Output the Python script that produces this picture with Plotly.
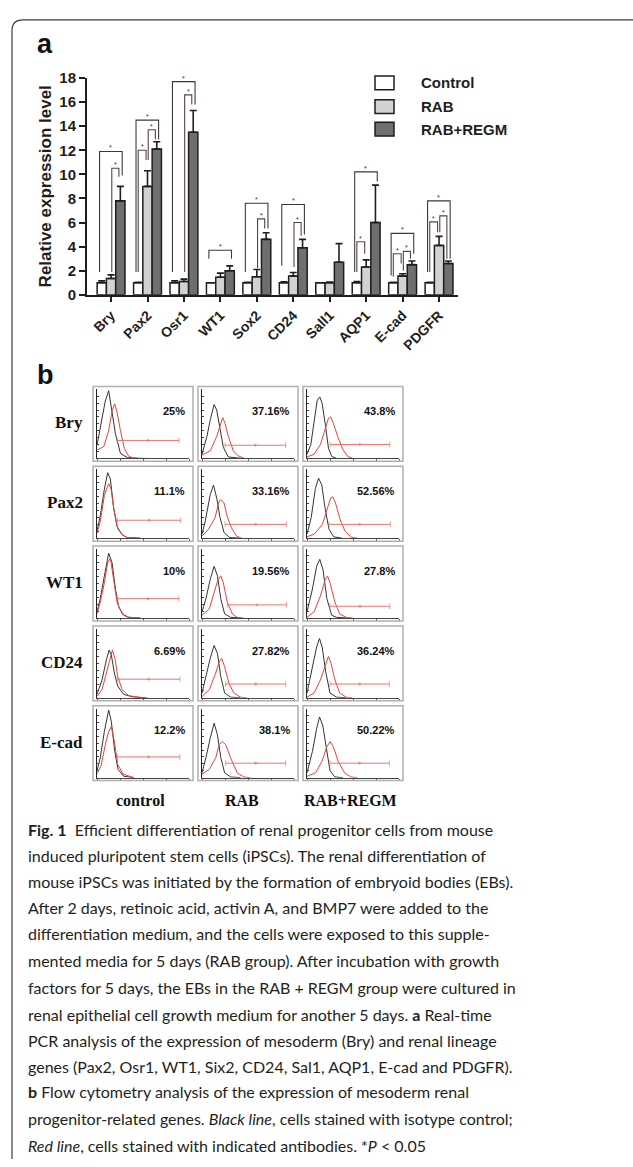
import plotly.graph_objects as go

W, H = 633, 1167

# ---------------- Panel a data ----------------
GENES = ["Bry", "Pax2", "Osr1", "WT1", "Sox2", "CD24", "Sall1", "AQP1", "E-cad", "PDGFR"]
GROUPS = ["Control", "RAB", "RAB+REGM"]
CONTROL = [1.0, 1.0, 1.0, 1.0, 1.0, 1.0, 1.0, 1.0, 1.0, 1.0]
CONTROL_ERR = [0.15, 0.03, 0.15, 0.0, 0.03, 0.08, 0.0, 0.1, 0.03, 0.03]
RAB = [1.35, 9.0, 1.1, 1.45, 1.5, 1.55, 1.0, 2.3, 1.55, 4.1]
RAB_ERR = [0.3, 1.3, 0.2, 0.35, 0.6, 0.3, 0.05, 0.6, 0.2, 0.75]
REGM = [7.8, 12.1, 13.5, 2.0, 4.6, 3.9, 2.7, 6.0, 2.5, 2.6]
REGM_ERR = [1.2, 0.6, 1.8, 0.4, 0.55, 0.7, 1.55, 3.1, 0.3, 0.2]
Y_TICKS = [0, 2, 4, 6, 8, 10, 12, 14, 16, 18]

# significance brackets: (gene index, from group, to group, top, left leg end, right leg end)
BRACKETS = [
    (0, 0, 2, 11.9, 1.9, 9.9), (0, 1, 2, 10.5, 1.9, 9.8),
    (1, 0, 2, 14.5, 1.9, 12.9), (1, 0, 1, 12.0, 1.9, 11.2), (1, 1, 2, 13.7, 11.2, 12.9),
    (2, 0, 2, 17.7, 1.9, 15.8), (2, 1, 2, 16.6, 1.9, 15.8),
    (3, 0, 2, 3.7, 3.0, 3.0),
    (4, 0, 2, 7.6, 1.9, 5.5), (4, 1, 2, 6.3, 2.2, 5.5),
    (5, 0, 2, 7.5, 2.4, 5.0), (5, 1, 2, 6.0, 2.3, 4.9),
    (7, 0, 2, 10.2, 1.9, 9.4), (7, 0, 1, 4.4, 1.9, 3.4),
    (8, 0, 2, 5.1, 1.6, 3.4), (8, 0, 1, 3.4, 1.5, 2.6), (8, 1, 2, 3.6, 2.0, 3.0),
    (9, 0, 2, 7.8, 1.9, 3.0), (9, 0, 1, 6.05, 1.9, 5.2), (9, 1, 2, 6.55, 5.2, 3.0),
]

# ---------------- Panel b data ----------------
FLOW_MARKERS = ["Bry", "Pax2", "WT1", "CD24", "E-cad"]
FLOW_GROUPS = ["control", "RAB", "RAB+REGM"]
FLOW_PCT = [["25%", "37.16%", "43.8%"],
            ["11.1%", "33.16%", "52.56%"],
            ["10%", "19.56%", "27.8%"],
            ["6.69%", "27.82%", "36.24%"],
            ["12.2%", "38.1%", "50.22%"]]
GATE_Y = [[26, 19, 20], [26, 20, 20], [28, 19, 17], [27, 20, 20], [30, 21, 21]]
GATE_X0 = [[22, 25, 25], [22, 25, 24], [22, 27.5, 25], [22, 25.7, 25], [22, 25.7, 25]]
GATE_X1 = [[89, 91, 90], [91, 92, 90.5], [89, 92, 90], [90, 91, 89.5], [90, 91, 89.5]]

BRY_BLACK = [
    [(0, 19), (5.5, 55), (9, 83), (12.7, 98), (16.4, 69), (20, 36), (25.5, 7), (33, 1), (47, 0)],
    [(0, 6), (5.4, 32), (9, 56), (13.2, 78), (16, 70), (19.6, 42), (23.2, 16), (28.6, 2), (43, 0)],
    [(0, 6), (4.2, 20), (7.7, 53), (11.1, 84), (13.9, 89), (16.4, 80), (19.9, 49), (23.3, 15), (26.8, 3), (32, 0)],
]
BRY_RED = [
    [(0, 12), (7.3, 17), (12.7, 40), (16.4, 69), (19.3, 79), (21.8, 67), (25.5, 40), (29.8, 14), (34.5, 3), (40, 0), (55, 0)],
    [(0, 5), (9, 11), (16, 32), (19.6, 49), (22.5, 59), (25, 51), (28.6, 32), (34, 11), (39, 4), (46, 0)],
    [(0, 2), (7.7, 6), (14.6, 20), (19.9, 44), (23.3, 58), (25.8, 60), (28.6, 51), (33.8, 30), (39, 13), (44, 3), (49.5, 0)],
]
PAX2_BLACK = [
    [(0, 10), (3.6, 33), (8, 71), (11.6, 95), (14.5, 86), (18.2, 43), (21.8, 17), (27.3, 5), (32.7, 1), (47, 0)],
    [(0, 6), (3.6, 25), (8.9, 63), (12.5, 77), (16, 58), (19.6, 30), (24, 8), (30, 1), (41, 0)],
    [(0, 6), (4.6, 30), (9.1, 72), (12.6, 87), (16.1, 77), (19.6, 44), (23.9, 13), (29, 2), (38, 0)],
]
PAX2_RED = [
    [(0, 7), (3.6, 24), (8, 62), (12.7, 79), (15.3, 71), (18.2, 43), (22.5, 14), (27.3, 5), (32.7, 1), (47, 0)],
    [(0, 3), (7.1, 13), (14.3, 30), (17.9, 51), (20.4, 56), (24, 51), (26.8, 34), (32, 15), (37.5, 3), (43, 0)],
    [(0, 2), (8, 6), (16.8, 20), (22, 44), (25.6, 58), (28, 60), (31, 51), (36, 27), (41.4, 10), (48.4, 1), (55, 0)],
]
WT1_BLACK = [
    [(0, 9), (3.6, 28), (8, 61), (12.7, 94), (16.4, 80), (20, 42), (23.6, 16), (29, 4), (34.5, 1), (47, 0)],
    [(0, 9), (4.3, 28), (8.9, 56), (13.2, 75), (16.8, 61), (20.4, 28), (24.6, 6), (31, 1), (42, 0)],
    [(0, 9), (5.9, 42), (10.5, 75), (13.9, 85), (17.4, 70), (21.6, 28), (26.8, 4), (32, 1), (42.5, 0)],
]
WT1_RED = [
    [(0, 6), (3.6, 23), (8, 51), (11.6, 80), (14.5, 87), (18.2, 56), (21.8, 23), (27.3, 6), (34.5, 1), (47, 0)],
    [(0, 4), (7.9, 13), (13.2, 37), (17.5, 56), (20.4, 61), (23.2, 51), (27.5, 23), (33, 6), (38, 1), (45, 0)],
    [(0, 1), (7.7, 9), (14.6, 32), (19.9, 56), (22.3, 61), (25, 51), (30.3, 23), (35.5, 6), (42.5, 1), (49.5, 0)],
]
CD24_BLACK = [
    [(0, 5), (5.5, 26), (10.2, 55), (13.1, 69), (15.6, 62), (18.9, 36), (22.5, 17), (29, 5), (40, 1), (54.5, 0)],
    [(0, 7), (4.3, 31), (8.9, 57), (13.2, 76), (16.8, 64), (20.4, 31), (24.6, 7), (31, 1), (42, 0)],
    [(0, 7), (5.9, 45), (10.5, 74), (13.6, 86), (16.4, 74), (20.6, 36), (25, 7), (32, 1), (42.5, 0)],
]
CD24_RED = [
    [(0, 2), (5.5, 12), (10.2, 36), (13.8, 57), (16.7, 69), (19.6, 57), (22.5, 31), (27.3, 12), (34.5, 3), (51, 0)],
    [(0, 2), (7.9, 12), (15, 36), (18.6, 52), (21.4, 57), (24.6, 45), (29.3, 21), (34.6, 7), (41.8, 1), (49, 0)],
    [(0, 1), (7.7, 7), (14.6, 26), (19.9, 48), (23.3, 60), (26.1, 50), (30.3, 26), (35.5, 7), (42.5, 1), (49.5, 0)],
]
ECAD_BLACK = [
    [(0, 10), (3.6, 29), (8, 67), (12.7, 98), (15.6, 81), (19.3, 38), (22.9, 12), (29, 2), (40, 0)],
    [(0, 7), (4.3, 29), (8.9, 57), (13.2, 79), (16.8, 62), (20.4, 29), (24.6, 7), (31, 1), (42, 0)],
    [(0, 7), (5.9, 38), (10.5, 71), (13.6, 88), (17.1, 76), (20.9, 43), (25, 10), (30.3, 1), (39, 0)],
]
ECAD_RED = [
    [(0, 6), (4.4, 17), (9.1, 48), (12.7, 67), (15.6, 74), (18.9, 52), (22.5, 19), (28.4, 5), (40, 0)],
    [(0, 5), (7.9, 12), (15, 29), (18.6, 48), (22.1, 52), (25.7, 48), (31, 29), (38.2, 7), (45.4, 1), (52.5, 0)],
    [(0, 2), (9.4, 7), (16.4, 24), (21.6, 45), (25, 52), (28.6, 45), (33.8, 24), (40.8, 7), (47.7, 1), (54.7, 0)],
]
FLOW_BLACK = [BRY_BLACK, PAX2_BLACK, WT1_BLACK, CD24_BLACK, ECAD_BLACK]
FLOW_RED = [BRY_RED, PAX2_RED, WT1_RED, CD24_RED, ECAD_RED]

CAPTION = [
    "<b>Fig. 1</b>  Efficient differentiation of renal progenitor cells from mouse",
    "induced pluripotent stem cells (iPSCs). The renal differentiation of",
    "mouse iPSCs was initiated by the formation of embryoid bodies (EBs).",
    "After 2 days, retinoic acid, activin A, and BMP7 were added to the",
    "differentiation medium, and the cells were exposed to this supple-",
    "mented media for 5 days (RAB group). After incubation with growth",
    "factors for 5 days, the EBs in the RAB + REGM group were cultured in",
    "renal epithelial cell growth medium for another 5 days. <b>a</b> Real-time",
    "PCR analysis of the expression of mesoderm (Bry) and renal lineage",
    "genes (Pax2, Osr1, WT1, Six2, CD24, Sal1, AQP1, E-cad and PDGFR).",
    "<b>b</b> Flow cytometry analysis of the expression of mesoderm renal",
    "progenitor-related genes. <i>Black line</i>, cells stained with isotype control;",
    "<i>Red line</i>, cells stained with indicated antibodies. *<i>P</i> &lt; 0.05",
]


def X(px):
    return px / W


def Y(py):
    return 1 - py / H


SANS = "Liberation Sans, Arial, sans-serif"
SERIF = "Liberation Serif, Times New Roman, serif"
CAPFONT = "Lato, sans-serif"
INK = "#1e1e1e"

fig = go.Figure()
layout = {}
shapes = []
annotations = []


def note(x, y, text, font, xanchor="center", yanchor="middle", **kw):
    d = dict(x=x, y=y, xref="paper", yref="paper", text=text, showarrow=False,
             xanchor=xanchor, yanchor=yanchor, font=font)
    d.update(kw)
    annotations.append(d)


# ---------------- Panel a ----------------
BARGAP = 0.235
bw = (1 - BARGAP) / 3
colors = ["#ffffff", "#d2d2d2", "#6f6f6f"]
vals = [CONTROL, RAB, REGM]
errs = [CONTROL_ERR, RAB_ERR, REGM_ERR]
for k in range(3):
    fig.add_trace(go.Bar(
        x=list(range(len(GENES))), y=vals[k], name=GROUPS[k],
        marker=dict(color=colors[k], line=dict(color=INK, width=1.5)),
        error_y=dict(type="data", array=errs[k], arrayminus=[0] * len(GENES),
                     symmetric=False, color=INK, thickness=1.6, width=3.5),
        xaxis="x", yaxis="y", showlegend=False))

layout["xaxis"] = dict(domain=[X(87), X(458)], range=[-0.66, 9.52], anchor="y",
                       tickmode="array", tickvals=list(range(len(GENES))), ticktext=GENES,
                       tickangle=-45, ticks="outside", ticklen=5, tickwidth=2, tickcolor=INK,
                       showline=True, linecolor=INK, linewidth=2, showgrid=False, zeroline=False,
                       tickfont=dict(family=SANS, size=14, color=INK, weight="bold"))
layout["yaxis"] = dict(domain=[Y(290), Y(70)], range=[0, 18], anchor="x",
                       tickmode="array", tickvals=Y_TICKS,
                       ticks="outside", ticklen=6, tickwidth=2, tickcolor=INK,
                       showline=True, linecolor=INK, linewidth=2, showgrid=False, zeroline=False,
                       tickfont=dict(family=SANS, size=15, color=INK, weight="bold"))

offs = [-bw, 0.0, bw]
leg_adj = {(0, 2): (-0.06, 0.05), (0, 1): (0.0, -0.04), (1, 2): (0.02, -0.04)}
for (g, i, j, top, lb, rb) in BRACKETS:
    dl, dr = leg_adj[(i, j)]
    xl = g + offs[i] + dl
    xr = g + offs[j] + dr
    col = "#3a3a3a" if (i, j) == (0, 2) else "#5a4242"
    shapes.append(dict(type="path", xref="x", yref="y",
                       path=f"M {xl},{lb} L {xl},{top} L {xr},{top} L {xr},{rb}",
                       line=dict(color=col, width=1.1)))
    annotations.append(dict(x=(xl + xr) / 2, y=top, xref="x", yref="y", text="*",
                            showarrow=False, xanchor="center", yanchor="bottom", yshift=-2,
                            font=dict(family=SANS, size=7, color="#333")))

# legend
for k, (name, c) in enumerate(zip(GROUPS, colors)):
    cy = [75, 99, 122][k]
    shapes.append(dict(type="rect", xref="paper", yref="paper",
                       x0=X(375), x1=X(394), y0=Y(cy + 7), y1=Y(cy - 7),
                       fillcolor=c, line=dict(color=INK, width=1.5)))
    note(X(419), Y(cy), name, dict(family=SANS, size=15, color=INK, weight="bold"), xanchor="left")

note(X(45), Y(180), "Relative expression level",
     dict(family=SANS, size=17, color=INK, weight="bold"), textangle=-90)
note(X(45), Y(36), "a", dict(family=SANS, size=27, color="#111", weight="bold"))
note(X(45), Y(371), "b", dict(family=SANS, size=27, color="#111", weight="bold"))

# ---------------- Panel b ----------------
n = 2
for r in range(len(FLOW_MARKERS)):
    top = 383 + 81 * r
    for c in range(len(FLOW_GROUPS)):
        left = 93 + 105 * c
        ax = f"x{n}"
        ay = f"y{n}"
        layout[f"xaxis{n}"] = dict(domain=[X(left + 4), X(left + 96)], range=[0, 100], anchor=ay,
                                   showline=True, linecolor="#444", linewidth=1, ticks="outside",
                                   ticklen=2, tickcolor="#555", tickvals=[0, 25, 50, 75, 100],
                                   showticklabels=False, showgrid=False, zeroline=False)
        layout[f"yaxis{n}"] = dict(domain=[Y(top + 73), Y(top + 3)], range=[0, 100], anchor=ax,
                                   showline=True, linecolor="#222", linewidth=1, ticks="inside",
                                   ticklen=2, tickcolor="#444", dtick=10,
                                   showticklabels=False, showgrid=False, zeroline=False)
        bx, by = zip(*FLOW_BLACK[r][c])
        rx, ry = zip(*FLOW_RED[r][c])
        fig.add_trace(go.Scatter(x=bx, y=by, mode="lines", line=dict(color="#333333", width=1),
                                 xaxis=ax, yaxis=ay, showlegend=False, hoverinfo="skip"))
        fig.add_trace(go.Scatter(x=rx, y=ry, mode="lines", line=dict(color="#e0453c", width=1),
                                 xaxis=ax, yaxis=ay, showlegend=False, hoverinfo="skip"))
        gx0, gx1, gy = GATE_X0[r][c], GATE_X1[r][c], GATE_Y[r][c]
        fig.add_trace(go.Scatter(x=[gx0, (gx0 + gx1) / 2, gx1], y=[gy, gy, gy], mode="lines+markers",
                                 line=dict(color="#e8766c", width=1),
                                 marker=dict(symbol=["line-ns", "circle", "line-ns"], size=[4, 2, 4],
                                             color="#e8766c", line=dict(color="#e8766c", width=1)),
                                 xaxis=ax, yaxis=ay, showlegend=False, hoverinfo="skip"))
        shapes.append(dict(type="rect", xref="paper", yref="paper",
                           x0=X(left), x1=X(left + 100), y0=Y(top + 76), y1=Y(top),
                           line=dict(color="#b0b0b0", width=1.5)))
        note(X(left + 94), Y(top + 25), FLOW_PCT[r][c],
             dict(family=SANS, size=11, color="#111", weight="bold"), xanchor="right")
        n += 1
    note(X(85), Y(top + 37), FLOW_MARKERS[r],
         dict(family=SERIF, size=17, color="#111", weight="bold"), xanchor="right")

for c, name in enumerate(FLOW_GROUPS):
    note(X([140, 242, 351][c]), Y(803), name, dict(family=SERIF, size=16, color="#111", weight="bold"))

# ---------------- caption ----------------
cap_y = [833, 859, 885, 912, 938, 966, 993, 1020, 1047, 1073, 1099, 1126, 1153]
for line, cy in zip(CAPTION, cap_y):
    note(X(26), Y(cy), line, dict(family=CAPFONT, size=16, color="#231f20"), xanchor="left")

# outer frame
shapes.append(dict(type="path", xref="paper", yref="paper",
                   path=f"M {X(12)},{Y(1167)} L {X(12)},{Y(22)} Q {X(12)},{Y(11)} {X(23)},{Y(11)} L {X(633)},{Y(11)}",
                   line=dict(color="#3c3c3c", width=1.2)))

fig.update_layout(width=W, height=H, margin=dict(l=0, r=0, t=0, b=0),
                  paper_bgcolor="white", plot_bgcolor="rgba(0,0,0,0)",
                  barmode="group", bargap=BARGAP, bargroupgap=0,
                  shapes=shapes, annotations=annotations, **layout)
fig.write_html("out.html", config={"displayModeBar": False},
               post_script="document.body.style.margin='0';document.body.style.padding='0';"
                           "document.body.style.overflow='hidden';")
